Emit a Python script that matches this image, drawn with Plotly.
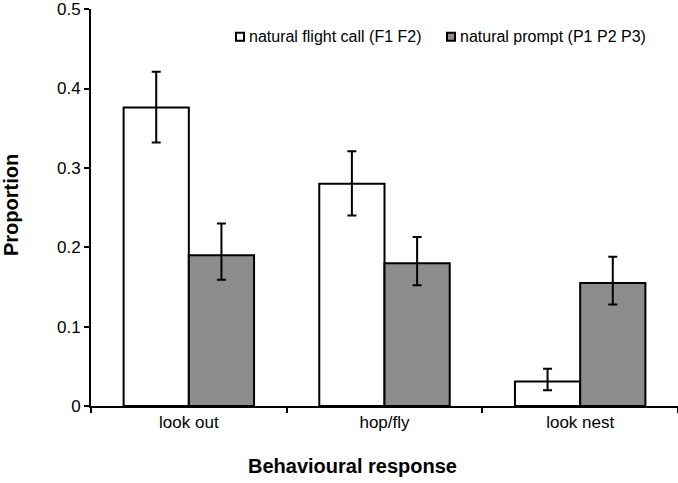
import plotly.graph_objects as go

categories = ["look out", "hop/fly", "look nest"]
series_names = ["natural flight call (F1 F2)", "natural prompt (P1 P2 P3)"]

flight_values = [0.376, 0.280, 0.031]
flight_err_plus = [0.045, 0.041, 0.016]
flight_err_minus = [0.044, 0.040, 0.011]

prompt_values = [0.190, 0.180, 0.155]
prompt_err_plus = [0.040, 0.033, 0.033]
prompt_err_minus = [0.031, 0.028, 0.027]

y_ticks = [0, 0.1, 0.2, 0.3, 0.4, 0.5]
y_tick_labels = ["0", "0.1", "0.2", "0.3", "0.4", "0.5"]

colors = ["#ffffff", "#8c8c8c"]
FONT = "Liberation Sans, Arial, sans-serif"

fig = go.Figure()
for name, vals, ep, em, col in [
    (series_names[0], flight_values, flight_err_plus, flight_err_minus, colors[0]),
    (series_names[1], prompt_values, prompt_err_plus, prompt_err_minus, colors[1]),
]:
    fig.add_trace(go.Bar(
        x=categories, y=vals, name=name,
        marker=dict(color=col, line=dict(color="black", width=2)),
        error_y=dict(type="data", symmetric=False, array=ep, arrayminus=em,
                     color="black", thickness=2, width=4.5),
        showlegend=False, hoverinfo="skip",
    ))

L, R, T, B = 91, 0, 5, 77
W, H = 678, 483
pw = W - L - R
ph = H - T - B

def px_x(px):
    return (px - L) / pw

def px_y(py):
    return (H - B - py) / ph

annotations = [
    dict(text="<b>Proportion</b>", x=px_x(11), y=px_y(203), xref="paper", yref="paper",
         textangle=-90, showarrow=False, font=dict(size=20, family=FONT, color="black"),
         xanchor="center", yanchor="middle"),
    dict(text="<b>Behavioural response</b>", x=px_x(352), y=px_y(467), xref="paper", yref="paper",
         showarrow=False, font=dict(size=20, family=FONT, color="black"),
         xanchor="center", yanchor="middle"),
]
shapes = []
legend_pos = [(236, 247), (447, 458)]
for (mx, tx), name, col in zip(legend_pos, series_names, colors):
    shapes.append(dict(type="rect", xref="paper", yref="paper",
                       x0=px_x(mx), x1=px_x(mx + 8), y0=px_y(37), y1=px_y(29),
                       fillcolor=col, line=dict(color="black", width=2)))
    annotations.append(dict(text=name, x=px_x(tx), y=px_y(33), xref="paper", yref="paper",
                            showarrow=False, xanchor="left", yanchor="middle",
                            font=dict(size=16, family=FONT, color="black")))

fig.update_layout(
    width=W, height=H,
    margin=dict(l=L, r=R, t=T, b=B),
    paper_bgcolor="white", plot_bgcolor="white",
    barmode="group", bargap=1/3, bargroupgap=0,
    font=dict(family=FONT, size=17, color="black"),
    annotations=annotations, shapes=shapes,
    showlegend=False,
)
fig.update_xaxes(
    type="category", showline=True, linecolor="black", linewidth=2,
    ticks="outside", tickson="boundaries", ticklen=5, tickwidth=2, tickcolor="black",
    showgrid=False, zeroline=False, tickfont=dict(size=17, family=FONT, color="black"),
    ticklabeloverflow="allow",
)
fig.update_yaxes(
    range=[0, 0.5002], tickvals=y_ticks, ticktext=y_tick_labels,
    showline=True, linecolor="black", linewidth=2,
    ticks="outside", ticklen=5, tickwidth=2, tickcolor="black",
    showgrid=False, zeroline=False, tickfont=dict(size=17, family=FONT, color="black"),
    ticklabeloverflow="allow",
)

fig.write_html("out.html", config={"displayModeBar": False},
               post_script="document.body.style.margin='0';document.body.style.overflow='hidden';")
